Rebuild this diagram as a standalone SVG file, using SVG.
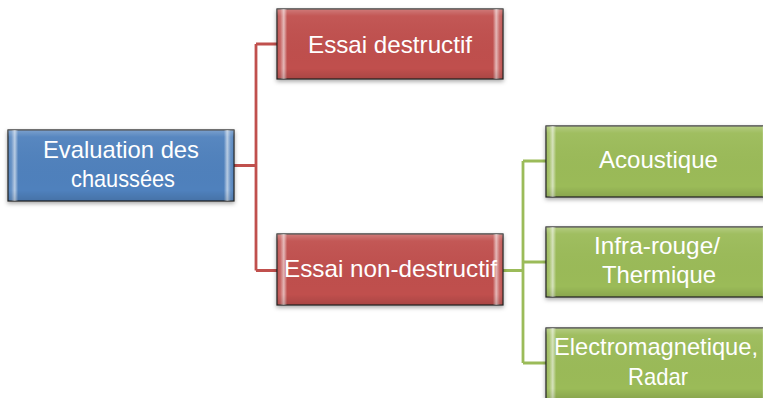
<svg xmlns="http://www.w3.org/2000/svg" width="763" height="398" viewBox="0 0 763 398">
  <defs>
    <!-- soft glossy bevel: light strips along the left and right edges -->
    <linearGradient id="bevelH" x1="0" y1="0" x2="1" y2="0">
      <stop offset="0" stop-color="#fff" stop-opacity="0"/>
      <stop offset="0.015" stop-color="#fff" stop-opacity="0.15"/>
      <stop offset="0.03" stop-color="#fff" stop-opacity="0.6"/>
      <stop offset="0.045" stop-color="#fff" stop-opacity="0"/>
      <stop offset="0.955" stop-color="#fff" stop-opacity="0"/>
      <stop offset="0.97" stop-color="#fff" stop-opacity="0.6"/>
      <stop offset="0.985" stop-color="#fff" stop-opacity="0.15"/>
      <stop offset="1" stop-color="#fff" stop-opacity="0"/>
    </linearGradient>
    <linearGradient id="bevelV" x1="0" y1="0" x2="0" y2="1">
      <stop offset="0" stop-color="#fff" stop-opacity="0.25"/>
      <stop offset="0.1" stop-color="#fff" stop-opacity="0.05"/>
      <stop offset="0.85" stop-color="#000" stop-opacity="0"/>
      <stop offset="1" stop-color="#000" stop-opacity="0.12"/>
    </linearGradient>
    <filter id="shadow" x="-10%" y="-20%" width="120%" height="150%">
      <feDropShadow dx="0" dy="2" stdDeviation="2" flood-color="#000" flood-opacity="0.35"/>
    </filter>
  </defs>
  <style>
    .box { stroke: #222; stroke-width: 1.2; filter: url(#shadow); }
    .blue { fill: #4f81bd; }
    .red { fill: #c0504d; }
    .green { fill: #9bbb59; }
    .gh { fill: url(#bevelH); }
    .gv { fill: url(#bevelV); }
    .lbl { font-family: "Liberation Sans", Arial, sans-serif; font-size: 24px; fill: #fff; text-anchor: middle; }
    .wire { fill: none; stroke-width: 2.8; }
    .wred { stroke: #c0504d; }
    .wgreen { stroke: #9bbb59; }
  </style>

  <!-- connectors -->
  <g id="connectors">
    <path class="wire wred" d="M234 165.5 H256 M256 44 V270.5 M256 44 H277 M256 270.5 H277"/>
    <path class="wire wgreen" d="M503 270.5 H523 M523 161 V363 M523 161 H546 M523 262 H546 M523 363 H546"/>
  </g>

  <!-- root -->
  <g id="evaluation">
    <rect class="box blue" x="8" y="130" width="226" height="71"/>
    <rect class="gh" x="8" y="130" width="226" height="71"/>
    <rect class="gv" x="8" y="130" width="226" height="71"/>
    <text class="lbl" x="121" y="158" textLength="156" lengthAdjust="spacingAndGlyphs">Evaluation des</text>
    <text class="lbl" x="123" y="187" textLength="104" lengthAdjust="spacingAndGlyphs">chaussées</text>
  </g>

  <g id="destructif">
    <rect class="box red" x="277" y="9" width="226" height="70"/>
    <rect class="gh" x="277" y="9" width="226" height="70"/>
    <rect class="gv" x="277" y="9" width="226" height="70"/>
    <text class="lbl" x="390" y="53" textLength="164" lengthAdjust="spacingAndGlyphs">Essai destructif</text>
  </g>

  <g id="non-destructif">
    <rect class="box red" x="277" y="234" width="226" height="71"/>
    <rect class="gh" x="277" y="234" width="226" height="71"/>
    <rect class="gv" x="277" y="234" width="226" height="71"/>
    <text class="lbl" x="390.5" y="277" textLength="213" lengthAdjust="spacingAndGlyphs">Essai non-destructif</text>
  </g>

  <g id="acoustique">
    <rect class="box green" x="546" y="126" width="226" height="71"/>
    <rect class="gh" x="546" y="126" width="226" height="71"/>
    <rect class="gv" x="546" y="126" width="226" height="71"/>
    <text class="lbl" x="658.5" y="168" textLength="119" lengthAdjust="spacingAndGlyphs">Acoustique</text>
  </g>

  <g id="infra-rouge">
    <rect class="box green" x="546" y="227" width="226" height="70"/>
    <rect class="gh" x="546" y="227" width="226" height="70"/>
    <rect class="gv" x="546" y="227" width="226" height="70"/>
    <text class="lbl" x="657" y="254" textLength="126" lengthAdjust="spacingAndGlyphs">Infra-rouge/</text>
    <text class="lbl" x="659" y="283" textLength="114" lengthAdjust="spacingAndGlyphs">Thermique</text>
  </g>

  <g id="electromagnetique">
    <rect class="box green" x="546" y="328" width="226" height="71"/>
    <rect class="gh" x="546" y="328" width="226" height="71"/>
    <rect class="gv" x="546" y="328" width="226" height="71"/>
    <text class="lbl" x="656" y="355" textLength="204" lengthAdjust="spacingAndGlyphs">Electromagnetique,</text>
    <text class="lbl" x="658" y="385" textLength="60" lengthAdjust="spacingAndGlyphs">Radar</text>
  </g>
</svg>
